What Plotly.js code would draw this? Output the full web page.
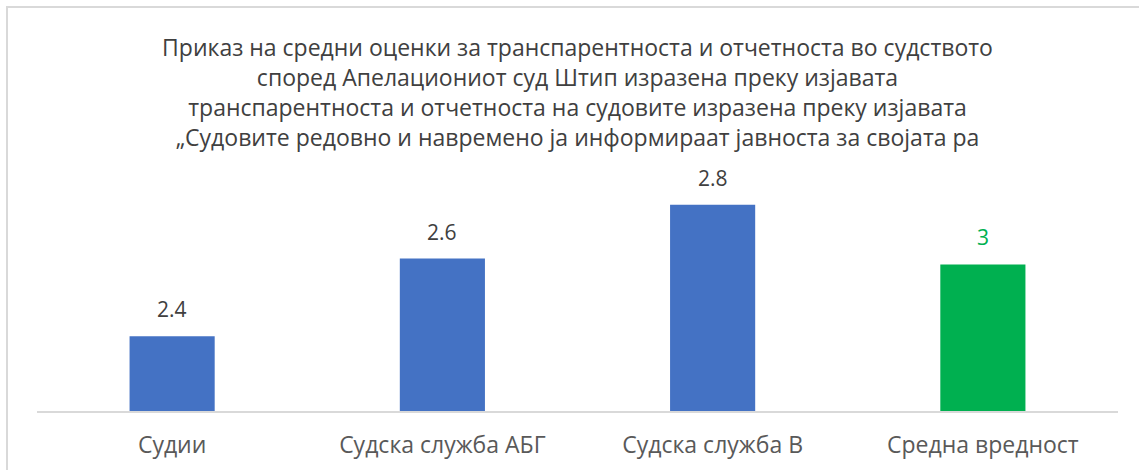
<!DOCTYPE html>
<html>
<head>
<meta charset="utf-8">
<script src="https://cdn.plot.ly/plotly-3.0.1.min.js"></script>
<style>
  body { margin: 0; background: #fff; }
  #wrap { position: relative; width: 1139px; height: 470px; overflow: hidden; }
  #chart { width: 1139px; height: 470px; }
  #frame { position: absolute; left: 6px; top: 6px; width: 1200px; height: 500px;
           border-left: 2px solid #d9d9d9; border-top: 2px solid #d9d9d9; pointer-events: none; }
</style>
</head>
<body>
<div id="wrap">
  <div id="chart"></div>
  <div id="frame"></div>
</div>
<script>
// categories and values
var categories = ["Судии", "Судска служба АБГ", "Судска служба В", "Средна вредност"];
var barValues = [2.38, 2.64, 2.82, 2.62];      // bar heights as drawn
var barLabels = ["2.4", "2.6", "2.8", "3"];     // labels as printed on the chart
var barColors = ["#4472c4", "#4472c4", "#4472c4", "#00b050"];
var labelColors = ["#404040", "#404040", "#404040", "#00b050"];

var titleLines = [
    "Приказ на средни оценки за транспарентноста и отчетноста во судството",
    "според Апелациониот суд Штип изразена преку изјавата",
    "транспарентноста и отчетноста на судовите изразена преку изјавата",
    "„Судовите редовно и навремено ја информираат јавноста за својата ра"
];

var font0 = "'Open Sans', sans-serif";

var trace = {
    x: categories,
    y: barValues,
    type: 'bar',
    marker: { color: barColors },
    hoverinfo: 'none'
};

var annotations = categories.map(function (c, i) {
    return {
        x: c,
        y: barValues[i],
        xref: 'x',
        yref: 'y',
        text: barLabels[i],
        showarrow: false,
        yanchor: 'bottom',
        yshift: 11,
        font: { family: font0, size: 21, color: labelColors[i] }
    };
});

var layout = {
    width: 1139,
    height: 470,
    margin: { l: 37, r: 21, t: 170, b: 59 },
    paper_bgcolor: '#ffffff',
    plot_bgcolor: '#ffffff',
    showlegend: false,
    bargap: 0.685,
    title: {
        text: titleLines.join('<br>'),
        x: 0.5,
        xref: 'paper',
        y: 1 - 56 / 470,
        yref: 'container',
        yanchor: 'top',
        font: { family: font0, size: 23, color: '#404040' }
    },
    xaxis: {
        showline: true,
        linecolor: '#d9d9d9',
        linewidth: 2,
        showgrid: false,
        zeroline: false,
        ticks: 'outside',
        ticklen: 12,
        tickcolor: 'rgba(0,0,0,0)',
        tickfont: { family: font0, size: 23, color: '#595959' }
    },
    yaxis: {
        range: [2.13, 2.936],
        visible: false,
        showgrid: false,
        zeroline: false
    },
    annotations: annotations
};

Plotly.newPlot('chart', [trace], layout, { displayModeBar: false, staticPlot: true });
</script>
</body>
</html>
